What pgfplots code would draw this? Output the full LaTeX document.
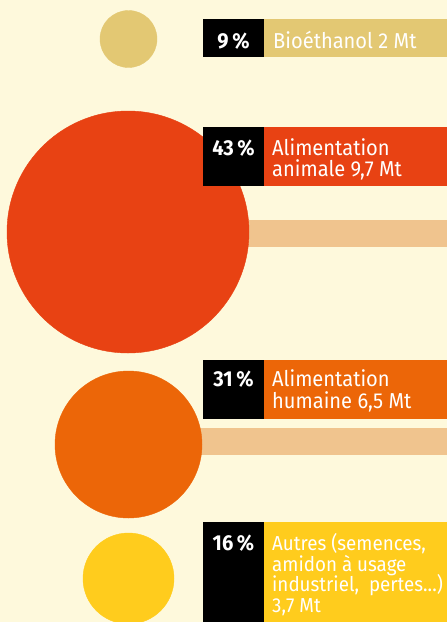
\documentclass[border=0pt]{standalone}
\usepackage{fontspec}
\setmainfont{Fira Sans}[FakeStretch=0.93]
\usepackage{pgfplots}
\pgfplotsset{compat=1.18}
\definecolor{bg}{HTML}{FEF9DC}
\definecolor{cbio}{HTML}{E3C873}
\definecolor{cani}{HTML}{E84213}
\definecolor{chum}{HTML}{EC6608}
\definecolor{caut}{HTML}{FFCC1D}
\definecolor{ctan}{HTML}{F0C48E}
\tikzset{lab/.style={text=white, inner sep=0pt, font=\fontsize{21.6}{22}\selectfont},
  labs/.style={text=white, inner sep=0pt, font=\fontsize{20.2}{21}\selectfont}}
\begin{document}
\begin{tikzpicture}
\useasboundingbox (0,0) rectangle (447pt,622pt);
\fill[bg] (0,0) rectangle (447pt,622pt);
\begin{axis}[at={(0,0)}, anchor=south west, scale only axis,
  width=447pt, height=622pt, xmin=0, xmax=447, ymin=0, ymax=622,
  y dir=reverse, hide axis, clip=true, clip marker paths=true]
% connector bars
\addplot[fill=ctan, draw=none] coordinates {(128,220) (447,220) (447,247) (128,247)};
\addplot[fill=ctan, draw=none] coordinates {(128,428) (447,428) (447,455) (128,455)};
% circles (radius in px)
\addplot[only marks, mark=*, mark size=28.5pt, color=cbio] coordinates {(128.5,39)};
\addplot[only marks, mark=*, mark size=121pt, color=cani] coordinates {(128,232)};
\addplot[only marks, mark=*, mark size=73.5pt, color=chum] coordinates {(128.5,444.5)};
\addplot[only marks, mark=*, mark size=45.5pt, color=caut] coordinates {(128.5,578.5)};
% label boxes
\addplot[fill=black, draw=none] coordinates {(203,19) (264,19) (264,57) (203,57)};
\addplot[fill=cbio, draw=none] coordinates {(264,19) (447,19) (447,57) (264,57)};
\addplot[fill=black, draw=none] coordinates {(203,127) (264,127) (264,186) (203,186)};
\addplot[fill=cani, draw=none] coordinates {(264,127) (447,127) (447,186) (264,186)};
\addplot[fill=black, draw=none] coordinates {(203,360) (264,360) (264,419) (203,419)};
\addplot[fill=chum, draw=none] coordinates {(264,360) (447,360) (447,419) (264,419)};
\addplot[fill=black, draw=none] coordinates {(203,522) (264,522) (264,622) (203,622)};
\addplot[fill=caut, draw=none] coordinates {(264,522) (447,522) (447,622) (264,622)};
% texts
\node[lab, anchor=base] at (axis cs:233.5,48) {\bfseries 9\,\%};
\node[lab, anchor=base west] at (axis cs:273,48) {Bioéthanol 2 Mt};
\node[lab, anchor=base] at (axis cs:233.5,155.5) {\bfseries 43\,\%};
\node[lab, anchor=base west] at (axis cs:272,155.5) {Alimentation};
\node[lab, anchor=base west] at (axis cs:272,176.5) {animale 9,7 Mt};
\node[lab, anchor=base] at (axis cs:233.5,386) {\bfseries 31\,\%};
\node[lab, anchor=base west] at (axis cs:272,386) {Alimentation};
\node[lab, anchor=base west] at (axis cs:272,408) {humaine 6,5 Mt};
\node[lab, anchor=base] at (axis cs:233.5,550) {\bfseries 16\,\%};
\node[labs, anchor=base west] at (axis cs:272,550) {Autres (semences,};
\node[labs, anchor=base west] at (axis cs:272,571) {amidon à usage};
\node[labs, anchor=base west] at (axis cs:272,591) {industriel,\ \ pertes...)};
\node[labs, anchor=base west] at (axis cs:272,612) {3,7 Mt};
\end{axis}
\end{tikzpicture}
\end{document}
